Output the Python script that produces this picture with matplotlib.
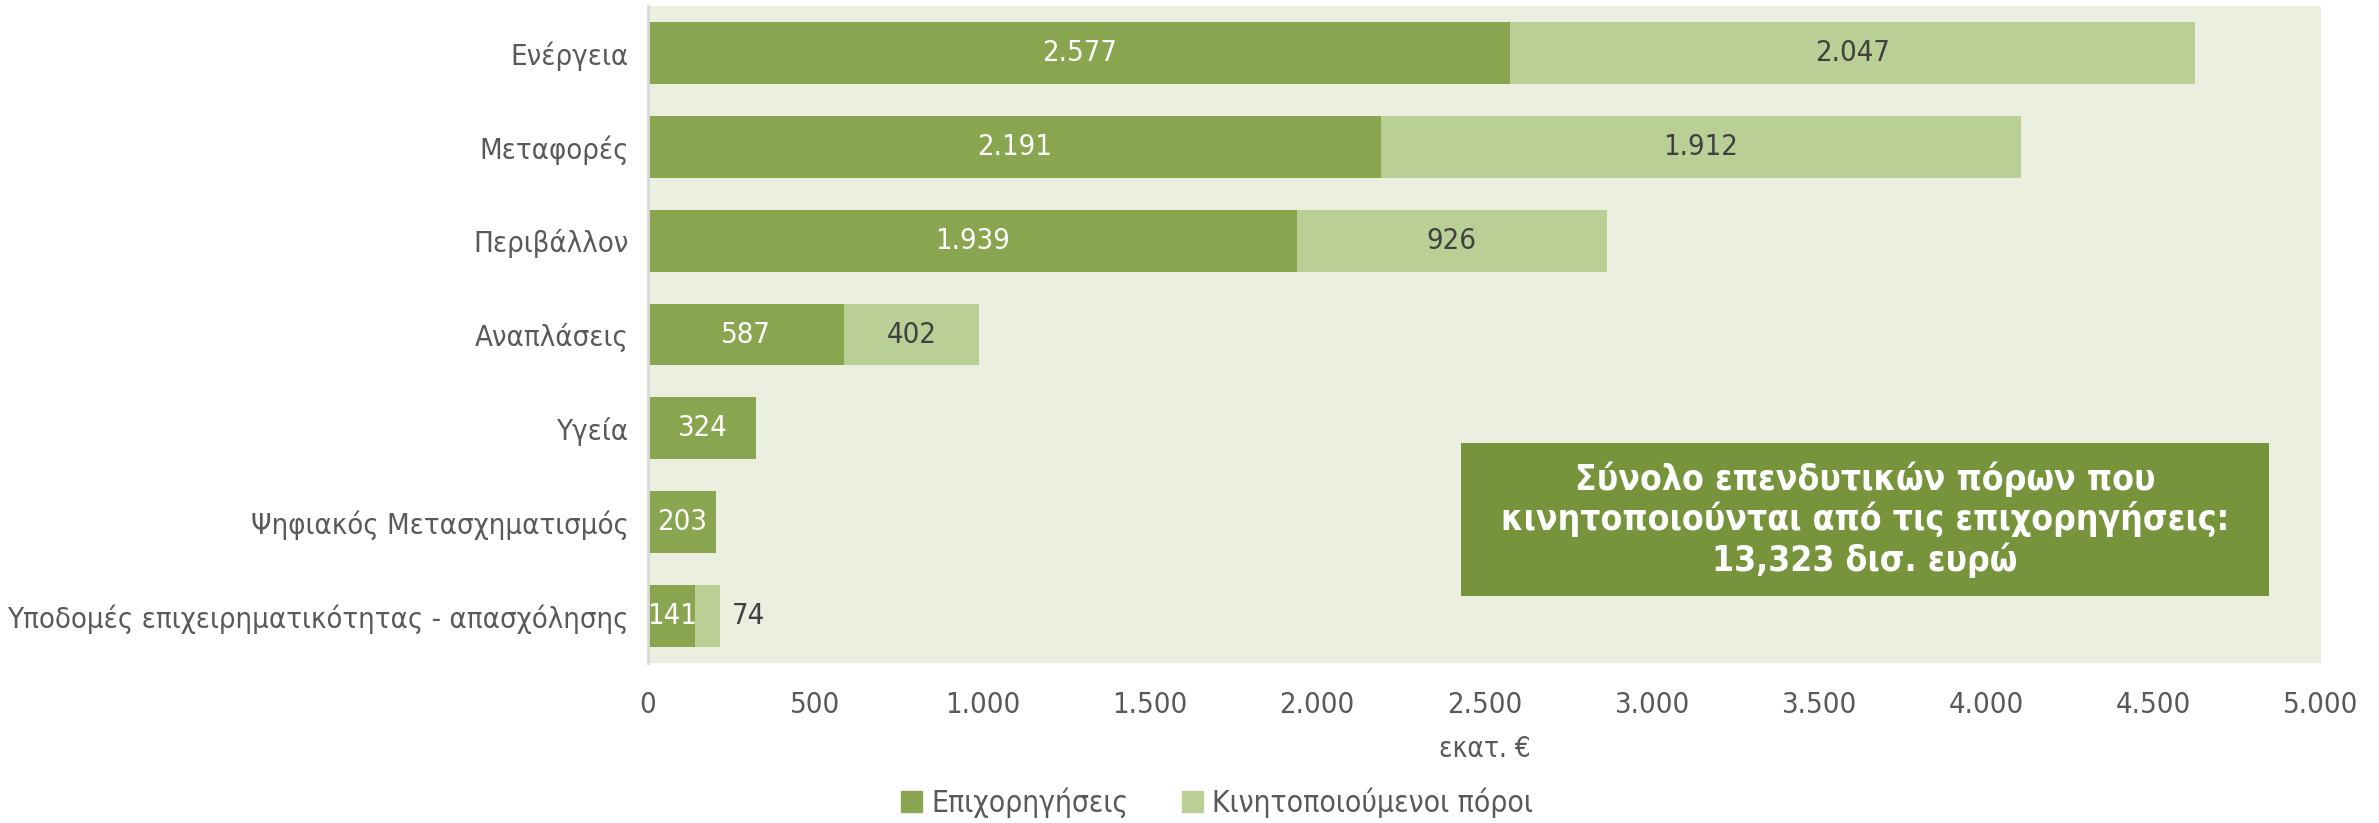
import os
import matplotlib.pyplot as plt
from matplotlib import font_manager as fm
from matplotlib.patches import Patch, Rectangle

categories = [
    "Ενέργεια",
    "Μεταφορές",
    "Περιβάλλον",
    "Αναπλάσεις",
    "Υγεία",
    "Ψηφιακός Μετασχηματισμός",
    "Υποδομές επιχειρηματικότητας - απασχόλησης",
]
grants = [2577, 2191, 1939, 587, 324, 203, 141]
mobilized = [2047, 1912, 926, 402, 0, 0, 74]
xticks = [0, 500, 1000, 1500, 2000, 2500, 3000, 3500, 4000, 4500, 5000]

DARK = "#8AA54F"
LIGHT = "#B9CF95"
BG = "#EBEFDF"
BOX = "#77933C"
GREY = "#595959"


def find_font(names):
    for f in fm.fontManager.ttflist:
        if os.path.basename(f.fname) in names:
            return f.fname
    return None


reg_path = find_font(["LiberationSansNarrow-Regular.ttf", "DejaVuSansCondensed.ttf"])
bold_path = find_font(["LiberationSansNarrow-Bold.ttf", "DejaVuSansCondensed-Bold.ttf"])


def fp(size, bold=False):
    path = bold_path if bold else reg_path
    if path:
        return fm.FontProperties(fname=path, size=size)
    return fm.FontProperties(family="DejaVu Sans", size=size * 0.9,
                             weight="bold" if bold else "normal")


def fmt(v):
    return f"{v:,}".replace(",", ".")


fig = plt.figure(figsize=(23.79, 8.23), dpi=100)
ax = fig.add_axes([0.2724, 0.1944, 0.7032, 0.7983])
ax.set_facecolor(BG)

y = list(range(len(categories)))
ax.barh(y, grants, height=0.66, color=DARK)
ax.barh(y, mobilized, left=grants, height=0.66, color=LIGHT)

ax.set_xlim(0, 5000)
ax.set_ylim(len(categories) - 0.5, -0.5)
ax.set_yticks(y)
ax.set_yticklabels(categories, color=GREY)
ax.set_xticks(xticks)
ax.set_xticklabels([fmt(v) for v in xticks], color=GREY)
for lab in ax.get_yticklabels() + ax.get_xticklabels():
    lab.set_fontproperties(fp(21))
ax.tick_params(length=0, pad=14)
ax.tick_params(axis="x", pad=20)
for s in ["top", "right", "bottom"]:
    ax.spines[s].set_visible(False)
ax.spines["left"].set_color("#D9D9D9")
ax.spines["left"].set_linewidth(2)

ax.set_xlabel("εκατ. €", fontproperties=fp(20), color=GREY, labelpad=12)

# value labels
for i in y:
    ax.text(grants[i] / 2, i, fmt(grants[i]), ha="center", va="center",
            fontproperties=fp(21), color="white")
    m = mobilized[i]
    if m == 0:
        continue
    if m < 150:
        ax.text(grants[i] + m + 35, i, fmt(m), ha="left", va="center",
                fontproperties=fp(21), color="#404040")
    else:
        ax.text(grants[i] + m / 2, i, fmt(m), ha="center", va="center",
                fontproperties=fp(21), color="#404040")

# summary box
ax.add_patch(Rectangle((0.486, 0.102), 0.483, 0.233, transform=ax.transAxes,
                       facecolor=BOX, edgecolor="none", zorder=3))
ax.text(0.7275, 0.2185,
        "Σύνολο επενδυτικών πόρων που\nκινητοποιούνται από τις επιχορηγήσεις:\n13,323 δισ. ευρώ",
        transform=ax.transAxes, ha="center", va="center",
        fontproperties=fp(25.5, bold=True), color="white", linespacing=1.17,
        zorder=4)

handles = [Patch(color=DARK), Patch(color=LIGHT)]
fig.legend(handles, ["Επιχορηγήσεις", "Κινητοποιούμενοι πόροι"],
           loc="center", bbox_to_anchor=(0.5115, 0.025), ncol=2, frameon=False,
           prop=fp(21.5), labelcolor=GREY, handlelength=0.7, handleheight=0.7,
           handletextpad=0.3, columnspacing=1.8)

fig.savefig("out.png", dpi=100)
